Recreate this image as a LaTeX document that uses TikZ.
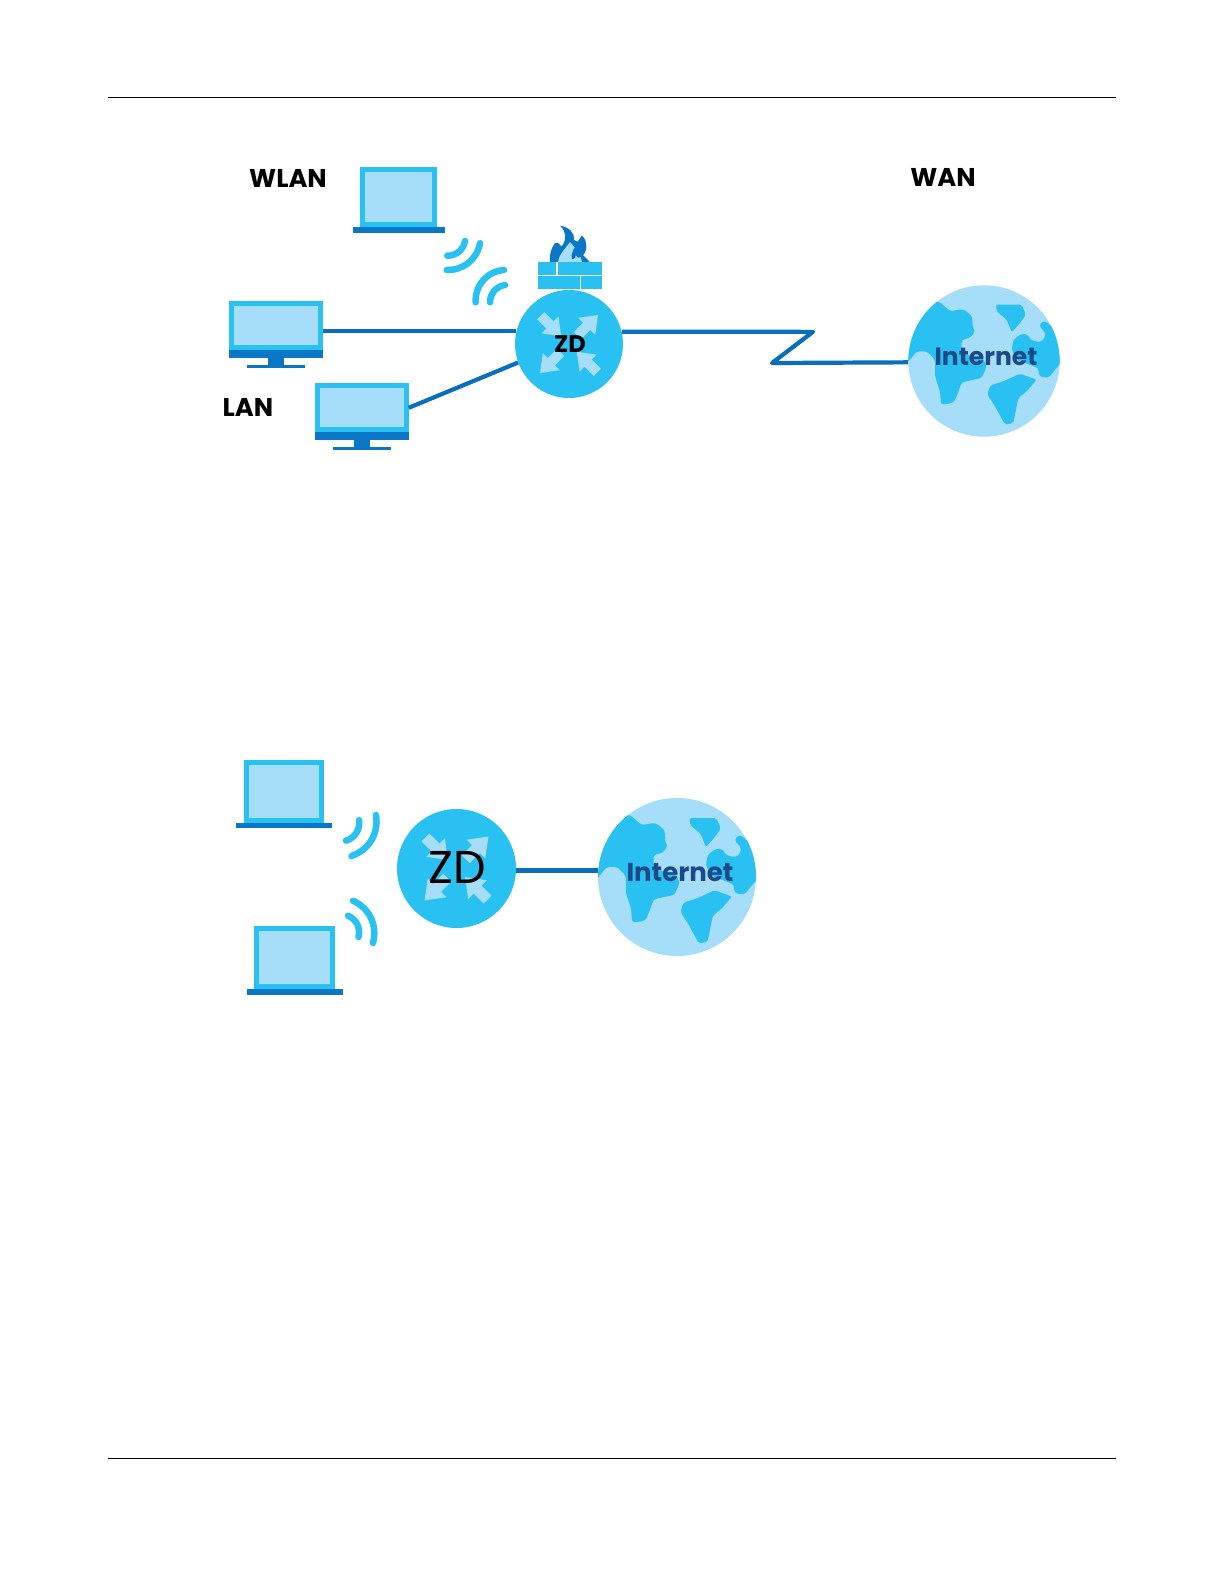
\documentclass[tikz,border=0pt]{standalone}
\usepackage{fontspec}
\setmainfont{Poppins}
\usetikzlibrary{positioning}
\definecolor{linkblue}{HTML}{0A6EBD}
\definecolor{blockblue}{HTML}{0A76C6}
\definecolor{brightblue}{HTML}{29C0F2}
\definecolor{paleblue}{HTML}{A6DDF8}
\definecolor{inkblue}{HTML}{1C4A86}

\begin{document}
\begin{tikzpicture}[
    x=1pt, y=-1pt,
    screen/.style={rectangle, draw=brightblue, fill=paleblue, line width=5pt, inner sep=0pt},
    solid block/.style={rectangle, fill=blockblue, inner sep=0pt, outer sep=0pt},
    router/.style={circle, fill=brightblue, inner sep=0pt},
    earth/.style={circle, fill=paleblue, inner sep=0pt},
    link/.style={draw=linkblue, line width=4.2pt},
    wave/.style={draw=brightblue, line width=6.5pt, line cap=round},
    tag/.style={font=\fontsize{25.7}{26}\selectfont\bfseries, inner sep=0pt},
    zdarrows/.pic={
        \foreach \a/\s/\e/\h in {45/12/41/16, 135/40/11/-16, 225/12/41/16, 315/40/11/-16}
            \fill[paleblue, rotate=\a] (\s,-5) -- ({\e-\h},-5) -- ({\e-\h},-12) -- (\e,0) -- ({\e-\h},12) -- ({\e-\h},5) -- (\s,5) -- cycle;
    },
    lands/.pic={
        \begin{scope}[shift={(-732,-304)}]
            \clip (732,304) circle (227);
            \fill[brightblue, rounded corners=3pt] (597,125) -- (630,155) -- (670,148) -- (697,170) -- (698,205) -- (706,215) -- (690,235) -- (665,240) -- (665,285) -- (725,290) -- (740,320) -- (725,355) -- (665,368) -- (650,410) -- (640,430) -- (603,435) -- (600,395) -- (585,350) -- (585,300) -- (560,275) -- (530,275) -- (510,300) -- (490,320) -- (480,150) -- cycle;
            \fill[brightblue, rounded corners=2pt] (768,135) -- (845,135) -- (858,165) -- (840,190) -- (815,218) -- (800,180) -- (770,155) -- cycle;
            \fill[brightblue, rounded corners=3pt] (900,190) -- (915,183) -- (950,215) -- (970,300) -- (925,355) -- (897,350) -- (895,325) -- (830,300) -- (815,270) -- (820,240) -- (845,222) -- (865,225) -- (870,240) -- (900,248) -- (915,235) -- (915,215) -- (900,205) -- cycle;
            \fill[brightblue, rounded corners=2pt] (840,342) -- (890,360) -- (860,395) -- (835,415) -- (820,490) -- (795,495) -- (765,440) -- (742,405) -- (750,378) -- (790,365) -- cycle;
        \end{scope}
    }
]

\useasboundingbox (0,0) rectangle (1224,1584);

% --- Page rules ---
\draw[line width=0.8pt] (108,97) -- (1116,97);
\draw[line width=0.8pt] (108,1458) -- (1116,1458);

% --- Upper labels ---
\node[tag] (wlan) at (288,178) {WLAN};
\node[tag] (lan) at (248,407) {LAN};
\node[tag] (wan) at (943,177) {WAN};

% --- Upper laptop ---
\node[screen, minimum width=72pt, minimum height=55pt] (lap1) at (398.5,197) {};
\node[solid block, minimum width=92pt, minimum height=6pt, below=0pt of lap1] (lap1base) {};

% --- Upper monitors ---
\foreach \i/\x/\y in {1/276/325.5, 2/361.7/407.8}
{
    \node[screen, minimum width=89pt, minimum height=44pt] (pc\i) at (\x,\y) {};
    \node[solid block, minimum width=94pt, minimum height=8pt, below=0pt of pc\i] (pc\i band) {};
    \node[solid block, minimum width=16pt, minimum height=7pt, below=0pt of pc\i band] (pc\i stem) {};
    \node[solid block, minimum width=58pt, minimum height=3pt, below=0pt of pc\i stem] (pc\i foot) {};
}

% --- Upper router and firewall ---
\node[router, minimum size=108pt] (zd1) at (569,344) {};
\pic at (zd1) {zdarrows};
\node[font=\fontsize{24}{24}\selectfont\bfseries, inner sep=0pt] (zd1text) at (570,344) {ZD};

\fill[blockblue] (560,225.7) .. controls (569,227) and (575,233) .. (574,240) -- (578,241.7) -- (581.7,235.7) .. controls (587,240) and (588,250) .. (583,255) -- (590,262.3) -- (550,262.3) .. controls (549,256) and (551,248) .. (555,243) -- (558,243) -- (561.7,246.7) .. controls (566,241) and (567,232) .. (560,225.7) -- cycle;
\fill[paleblue] (558,262.3) .. controls (559,254) and (566,248) .. (570,242) .. controls (575,248) and (580,252) .. (582,262.3) -- cycle;
\fill[blockblue] (572,259) .. controls (570,252) and (576,247) .. (578,241.7) -- (581.7,235.7) .. controls (587,240) and (588,250) .. (583,255) .. controls (580,258) and (577,259) .. (576,255) .. controls (575,259) and (573,260) .. (572,259) -- cycle;
\node[rectangle, fill=brightblue, inner sep=0pt, outer sep=0pt, minimum width=64.6pt, minimum height=26.4pt] (wall) at (570,275.5) {};
\draw[white, line width=1.3pt] (wall.west) -- (wall.east);
\draw[white, line width=1.3pt] (557,262.3) -- (557,275.5);
\draw[white, line width=1.3pt] (580.7,275.5) -- (580.7,288.7);

% --- Upper internet ---
\node[earth, minimum size=151.4pt] (net1) at (984,361) {};
\pic[scale=0.3333] at (net1) {lands};
\node[font=\fontsize{25}{25}\selectfont\bfseries, text=inkblue, inner sep=0pt] (net1text) at (986,357) {Internet};

% --- Upper wireless ---
\draw[wave] (480,243.3) to[bend left=40] (446.7,270);
\draw[wave] (465,241) to[bend left=40] (447.3,255.7);
\draw[wave] (504,270) to[bend right=45] (475.7,302.3);
\draw[wave] (505,285) to[bend right=40] (490,302.3);

% --- Upper connections ---
\coordinate (kink1) at (813,331.85);
\coordinate (kink2) at (772,363);
\draw[link] (pc1.east |- zd1.166) -- (zd1.166);
\draw[link] (pc2.east) -- (zd1.200);
\draw[link, line join=round] (zd1.13) -- (kink1) -- (kink2) -- (net1.181.5);

% --- Lower laptops ---
\foreach \i/\x/\y in {2/283.75/791, 3/294.5/957.5}
{
    \node[screen, minimum width=75.5pt, minimum height=58pt] (lap\i) at (\x,\y) {};
    \node[solid block, minimum width=96pt, minimum height=5.5pt, below=0pt of lap\i] (lap\i base) {};
}

% --- Lower router ---
\node[router, minimum size=119pt] (zd2) at (456.5,868.5) {};
\pic[scale=1.1] at (zd2) {zdarrows};
\node[font=\fontsize{46}{46}\selectfont, inner sep=0pt] (zd2text) at (457,867.5) {ZD};

% --- Lower internet ---
\node[earth, minimum size=158pt] (net2) at (677,877) {};
\pic[scale=0.3480] at (net2) {lands};
\node[font=\fontsize{26}{26}\selectfont\bfseries, text=inkblue, inner sep=0pt] (net2text) at (680,872) {Internet};

% --- Lower wireless ---
\draw[wave] (376,815) to[bend left=40] (351.5,856);
\draw[wave] (359,820) to[bend left=40] (346,840.7);
\draw[wave] (353,900.7) to[bend left=40] (373,943);
\draw[wave] (348,915.7) to[bend left=40] (358.5,937);

% --- Lower connection ---
\draw[link] (zd2.-2) -- (net2.175 |- zd2.-2);

\end{tikzpicture}
\end{document}
